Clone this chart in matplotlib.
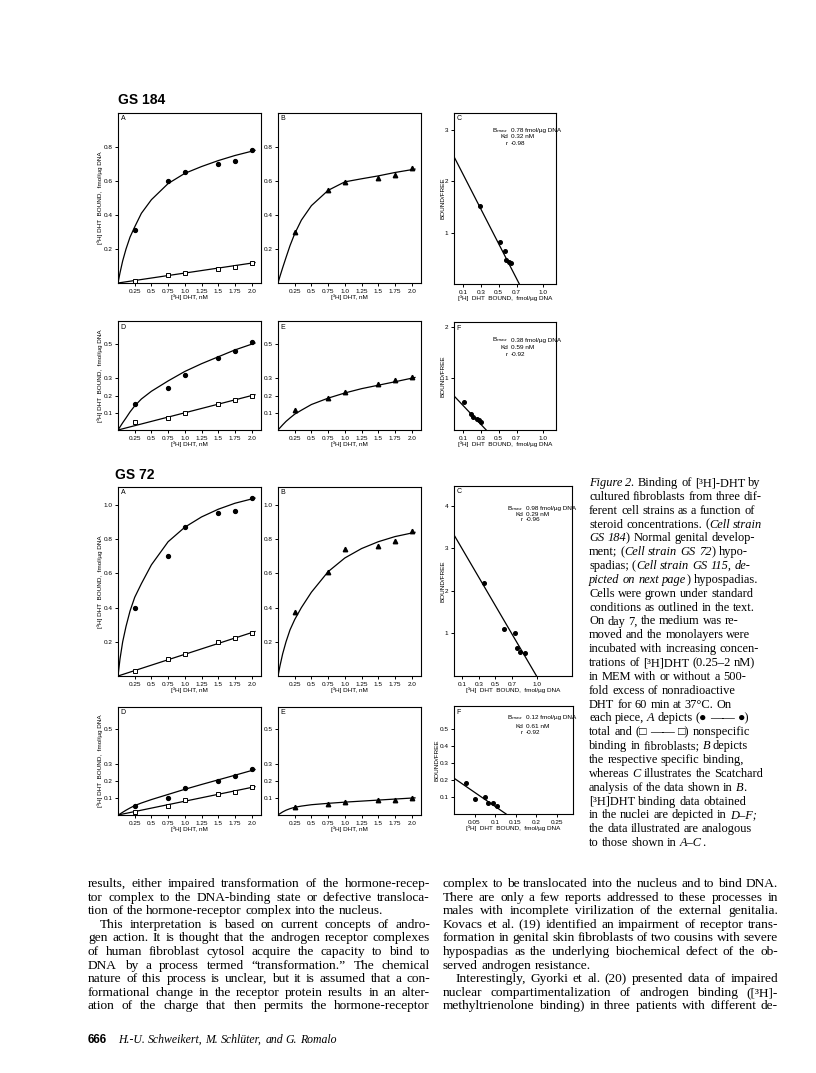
import matplotlib
matplotlib.use('Agg')
import matplotlib.pyplot as plt

# concentration of [3H]DHT (nM) used in every binding panel
conc = [0.25, 0.75, 1.0, 1.5, 1.75, 2.0]
fit_x = [0, 0.03, 0.07, 0.12, 0.18, 0.25, 0.35, 0.5, 0.75, 1.0, 1.25, 1.5, 1.75, 2.05]
line_x = [0, 2.05]

# GS 184, whole cells (A, B)
gs184_total = [0.31, 0.60, 0.65, 0.70, 0.72, 0.78]
gs184_nonspec = [0.01, 0.05, 0.06, 0.085, 0.095, 0.115]
gs184_specific = [0.30, 0.545, 0.595, 0.62, 0.635, 0.675]
gs184_total_fit = [0, 0.06, 0.13, 0.2, 0.27, 0.33, 0.41, 0.49, 0.585, 0.645, 0.685, 0.72, 0.75, 0.78]
gs184_specific_fit = [0, 0.04, 0.09, 0.15, 0.22, 0.29, 0.37, 0.455, 0.545, 0.595, 0.613, 0.63, 0.65, 0.67]
gs184_nonspec_fit = [0, 0.12]
# GS 184, nuclei (D, E)
gs184n_total = [0.15, 0.245, 0.32, 0.42, 0.46, 0.51]
gs184n_nonspec = [0.046, 0.067, 0.10, 0.15, 0.175, 0.20]
gs184n_specific = [0.115, 0.185, 0.22, 0.268, 0.29, 0.31]
gs184n_total_fit = [0, 0.018, 0.042, 0.07, 0.105, 0.14, 0.18, 0.225, 0.285, 0.34, 0.385, 0.425, 0.465, 0.505]
gs184n_specific_fit = [0, 0.013, 0.03, 0.05, 0.07, 0.092, 0.115, 0.148, 0.185, 0.215, 0.24, 0.26, 0.28, 0.305]
gs184n_nonspec_fit = [0, 0.205]
# GS 184 Scatchard (C, F)
gs184_sc_bound = [0.29, 0.51, 0.57, 0.585, 0.61, 0.64]
gs184_sc_ratio = [1.52, 0.81, 0.64, 0.46, 0.42, 0.40]
gs184_sc_line = ([0, 0.73], [2.48, 0])
gs184n_sc_bound = [0.115, 0.19, 0.21, 0.26, 0.28, 0.30]
gs184n_sc_ratio = [0.55, 0.30, 0.26, 0.22, 0.20, 0.16]
gs184n_sc_line = ([0, 0.36], [0.66, 0])

# GS 72, whole cells (A, B)
gs72_total = [0.40, 0.70, 0.87, 0.955, 0.967, 1.04]
gs72_nonspec = [0.03, 0.097, 0.13, 0.20, 0.225, 0.25]
gs72_specific = [0.376, 0.61, 0.74, 0.76, 0.79, 0.85]
gs72_total_fit = [0, 0.1, 0.2, 0.29, 0.38, 0.46, 0.54, 0.65, 0.785, 0.87, 0.93, 0.975, 1.01, 1.04]
gs72_specific_fit = [0, 0.06, 0.13, 0.2, 0.27, 0.33, 0.4, 0.49, 0.61, 0.69, 0.745, 0.785, 0.815, 0.84]
gs72_nonspec_fit = [0, 0.26]
# GS 72, nuclei (D, E)
gs72n_total = [0.05, 0.10, 0.156, 0.20, 0.23, 0.266]
gs72n_nonspec = [0.02, 0.05, 0.085, 0.12, 0.135, 0.164]
gs72n_specific = [0.045, 0.062, 0.075, 0.085, 0.09, 0.10]
gs72n_total_fit = [0, 0.006, 0.016, 0.028, 0.041, 0.055, 0.07, 0.09, 0.12, 0.15, 0.178, 0.205, 0.232, 0.265]
gs72n_specific_fit = [0, 0.008, 0.018, 0.028, 0.037, 0.045, 0.052, 0.06, 0.068, 0.075, 0.081, 0.087, 0.093, 0.10]
gs72n_nonspec_fit = [0, 0.165]
# GS 72 Scatchard (C, F)
gs72_sc_bound = [0.36, 0.60, 0.74, 0.76, 0.80, 0.86]
gs72_sc_ratio = [2.18, 1.10, 1.0, 0.67, 0.57, 0.53]
gs72_sc_line = ([0, 1.0], [3.32, 0])
gs72n_sc_bound = [0.03, 0.05, 0.075, 0.084, 0.095, 0.105]
gs72n_sc_ratio = [0.18, 0.09, 0.10, 0.065, 0.065, 0.045]
gs72n_sc_line = ([0, 0.127], [0.21, 0])

conc_ticks = [0.25, 0.5, 0.75, 1.0, 1.25, 1.5, 1.75, 2.0]
conc_labels = ['0.25', '0.5', '0.75', '1.0', '1.25', '1.5', '1.75', '2.0']
sc_ticks = [0.1, 0.3, 0.5, 0.7, 1.0]
sc_labels = ['0.1', '0.3', '0.5', '0.7', '1.0']

W, H = 816, 1073
SANS = ['Liberation Sans Narrow', 'Liberation Sans', 'DejaVu Sans']
SERIF = ['Liberation Serif', 'DejaVu Serif', 'DejaVu Sans']

fig = plt.figure(figsize=(W / 100, H / 100), dpi=100)
renderer = fig.canvas.get_renderer()


def make_axes(l, t, r, b, xlim, ylim, xticks, xlabels, yticks, ylabels, letter):
    ax = fig.add_axes([l / W, 1 - b / H, (r - l) / W, (b - t) / H])
    ax.set_xlim(*xlim)
    ax.set_ylim(*ylim)
    ax.set_xticks(xticks)
    ax.set_xticklabels(xlabels, family=SANS)
    ax.set_yticks(yticks)
    ax.set_yticklabels(ylabels, family=SANS)
    ax.tick_params(direction='out', length=2.5, width=0.7, labelsize=4.6, pad=1.5)
    for s in ax.spines.values():
        s.set_linewidth(0.8)
    ax.text(5 / (r - l), 1 - 6 / (b - t), letter, transform=ax.transAxes,
            fontsize=5, family=SANS, va='center', ha='center')
    ax._px = (r - l, b - t)
    return ax


def xlabel(ax, text, dy=14):
    ax.text(0.5, -dy / ax._px[1], text, transform=ax.transAxes, fontsize=4.6,
            family=SANS, ha='center', va='center')


def ylabel(ax, text, dx):
    ax.text(-dx / ax._px[0], 0.5, text, transform=ax.transAxes, fontsize=4.6,
            family=SANS, ha='center', va='center', rotation=90)


def stats(ax, x_px, tops, vals):
    names = ['B$_{max}$', 'Kd', 'r']
    for name, dy, v in zip(names, tops, vals):
        y = 1 - dy / ax._px[1]
        ax.text((x_px - 2) / ax._px[0], y, name, transform=ax.transAxes, fontsize=4.6,
                family=SANS, ha='right', va='center')
        ax.text((x_px + 1) / ax._px[0], y, v, transform=ax.transAxes, fontsize=4.6,
                family=SANS, ha='left', va='center')


def binding_pair(top, bot, ylim, yt, ytl, total, total_fit, nonspec, nonspec_fit, spec, spec_fit, la, lb):
    a = make_axes(118, top, 261, bot, (0, 2.14), ylim, conc_ticks, conc_labels, yt, ytl, la)
    a.plot(fit_x, total_fit, color='black', lw=0.9)
    a.plot(line_x, nonspec_fit, color='black', lw=0.9)
    a.plot(conc, total, 'o', color='black', ms=2.8)
    a.plot(conc, nonspec, 's', mfc='white', mec='black', mew=0.7, ms=2.8)
    xlabel(a, '[³H] DHT, nM')
    ylabel(a, '[³H] DHT  BOUND,  fmol/µg DNA', 18)
    b = make_axes(278, top, 421, bot, (0, 2.14), ylim, conc_ticks, conc_labels, yt, ytl, lb)
    b.plot(fit_x, spec_fit, color='black', lw=0.9)
    b.plot(conc, spec, '^', color='black', ms=3.2)
    xlabel(b, '[³H] DHT, nM')


def scatchard(top, bot, right, xlim, ylim, xt, xtl, yt, ytl, bound, ratio, fit, letter, ydx=11):
    c = make_axes(454, top, right, bot, xlim, ylim, xt, xtl, yt, ytl, letter)
    c.plot(fit[0], fit[1], color='black', lw=0.9)
    c.plot(bound, ratio, 'o', color='black', ms=2.6)
    xlabel(c, '[³H]  DHT  BOUND,  fmol/µg DNA')
    ylabel(c, 'BOUND/FREE', ydx)
    return c


# ---- GS 184 ----
fig.text(118 / W, 1 - 104 / H, 'GS 184', fontsize=10, weight='bold', family=SANS)
binding_pair(113, 283, (0, 1.0), [0.2, 0.4, 0.6, 0.8], ['0.2', '0.4', '0.6', '0.8'],
             gs184_total, gs184_total_fit, gs184_nonspec, gs184_nonspec_fit,
             gs184_specific, gs184_specific_fit, 'A', 'B')
c = scatchard(113, 284, 556, (0, 1.14), (0, 3.33), sc_ticks, sc_labels, [1, 2, 3], ['1', '2', '3'],
              gs184_sc_bound, gs184_sc_ratio, gs184_sc_line, 'C')
stats(c, 56, [18, 24, 31], ['0.78 fmol/µg DNA', '0.32 nM', '-0.98'])

binding_pair(321, 430, (0, 0.633), [0.1, 0.2, 0.3, 0.5], ['0.1', '0.2', '0.3', '0.5'],
             gs184n_total, gs184n_total_fit, gs184n_nonspec, gs184n_nonspec_fit,
             gs184n_specific, gs184n_specific_fit, 'D', 'E')
f = scatchard(322, 430, 556, (0, 1.14), (0, 2.09), sc_ticks, sc_labels, [1, 2], ['1', '2'],
              gs184n_sc_bound, gs184n_sc_ratio, gs184n_sc_line, 'F')
stats(f, 56, [18, 25, 32], ['0.38 fmol/µg DNA', '0.59 nM', '-0.92'])

# ---- GS 72 ----
fig.text(115 / W, 1 - 479 / H, 'GS 72', fontsize=10, weight='bold', family=SANS)
binding_pair(487, 676, (0, 1.105), [0.2, 0.4, 0.6, 0.8, 1.0], ['0.2', '0.4', '0.6', '0.8', '1.0'],
             gs72_total, gs72_total_fit, gs72_nonspec, gs72_nonspec_fit,
             gs72_specific, gs72_specific_fit, 'A', 'B')
c = scatchard(486, 676, 572, (0, 1.43), (0, 4.47), sc_ticks, sc_labels, [1, 2, 3, 4], ['1', '2', '3', '4'],
              gs72_sc_bound, gs72_sc_ratio, gs72_sc_line, 'C')
stats(c, 71, [23, 29, 34], ['0.98 fmol/µg DNA', '0.29 nM', '-0.96'])

binding_pair(707, 815, (0, 0.63), [0.1, 0.2, 0.3, 0.5], ['0.1', '0.2', '0.3', '0.5'],
             gs72n_total, gs72n_total_fit, gs72n_nonspec, gs72n_nonspec_fit,
             gs72n_specific, gs72n_specific_fit, 'D', 'E')
f = scatchard(706, 814, 573, (0, 0.29), (0, 0.633), [0.05, 0.1, 0.15, 0.2, 0.25],
              ['0.05', '0.1', '0.15', '0.2', '0.25'], [0.1, 0.2, 0.3, 0.4, 0.5],
              ['0.1', '0.2', '0.3', '0.4', '0.5'], gs72n_sc_bound, gs72n_sc_ratio, gs72n_sc_line, 'F',
              ydx=17)
stats(f, 71, [12, 20, 27], ['0.12 fmol/µg DNA', '0.61 nM', '-0.92'])


# ---- running text ----
def tokenize(line):
    tokens = []
    pending = False
    for i, part in enumerate(line.split('*')):
        for j, w in enumerate(part.split(' ')):
            if j > 0:
                pending = True
            if w == '':
                continue
            tokens.append((w, i % 2 == 1, pending))
            pending = False
    return tokens


def put_line(x0, y, line, size, x1=None, family=SERIF, weight='normal'):
    tokens = tokenize(line)
    arts, widths = [], []
    for w, ital, sp in tokens:
        t = fig.text(0, 0, w, fontsize=size, family=family, weight=weight,
                     style='italic' if ital else 'normal', va='baseline', ha='left')
        widths.append(t.get_window_extent(renderer).width)
        arts.append(t)
    space = size * 1.389 * 0.25
    nspace = sum(1 for tok in tokens[1:] if tok[2])
    if x1 is not None and nspace:
        space = (x1 - x0 - sum(widths)) / nspace
    x = x0
    for i, (t, wd, tok) in enumerate(zip(arts, widths, tokens)):
        if i > 0 and tok[2]:
            x += space
        t.set_position((x / W, 1 - y / H))
        x += wd


caption = [
    '*Figure 2.* Binding of [³H]-DHT by',
    'cultured fibroblasts from three dif-',
    'ferent cell strains as a function of',
    'steroid concentrations. (*Cell strain*',
    '*GS 184*) Normal genital develop-',
    'ment; (*Cell strain GS 72*) hypo-',
    'spadias; (*Cell strain GS 115, de-*',
    '*picted on next page*) hypospadias.',
    'Cells were grown under standard',
    'conditions as outlined in the text.',
    'On day 7, the medium was re-',
    'moved and the monolayers were',
    'incubated with increasing concen-',
    'trations of [³H]DHT (0.25–2 nM)',
    'in MEM with or without a 500-',
    'fold excess of nonradioactive',
    'DHT for 60 min at 37°C. On',
    'each piece, *A* depicts (● —— ●)',
    'total and (□ —— □) nonspecific',
    'binding in fibroblasts; *B* depicts',
    'the respective specific binding,',
    'whereas *C* illustrates the Scatchard',
    'analysis of the data shown in *B*.',
    '[³H]DHT binding data obtained',
    'in the nuclei are depicted in *D–F;*',
    'the data illustrated are analogous',
    'to those shown in *A–C*.',
]
for k, line in enumerate(caption):
    put_line(589, 486 + k * 13.85, line, 8.9)

left_col = [
    ('results, either impaired transformation of the hormone-recep-', 0, True),
    ('tor complex to the DNA-binding state or defective transloca-', 0, True),
    ('tion of the hormone-receptor complex into the nucleus.', 0, False),
    ('This interpretation is based on current concepts of andro-', 12, True),
    ('gen action. It is thought that the androgen receptor complexes', 0, True),
    ('of human fibroblast cytosol acquire the capacity to bind to', 0, True),
    ('DNA by a process termed “transformation.” The chemical', 0, True),
    ('nature of this process is unclear, but it is assumed that a con-', 0, True),
    ('formational change in the receptor protein results in an alter-', 0, True),
    ('ation of the charge that then permits the hormone-receptor', 0, True),
]
right_col = [
    ('complex to be translocated into the nucleus and to bind DNA.', 0, True),
    ('There are only a few reports addressed to these processes in', 0, True),
    ('males with incomplete virilization of the external genitalia.', 0, True),
    ('Kovacs et al. (19) identified an impairment of receptor trans-', 0, True),
    ('formation in genital skin fibroblasts of two cousins with severe', 0, True),
    ('hypospadias as the underlying biochemical defect of the ob-', 0, True),
    ('served androgen resistance.', 0, False),
    ('Interestingly, Gyorki et al. (20) presented data of impaired', 12, True),
    ('nuclear compartimentalization of androgen binding ([³H]-', 0, True),
    ('methyltrienolone binding) in three patients with different de-', 0, True),
]
for k, (line, ind, just) in enumerate(left_col):
    put_line(88 + ind, 887 + k * 13.6, line, 9.6, 430 if just else None)
for k, (line, ind, just) in enumerate(right_col):
    put_line(443 + ind, 887 + k * 13.6, line, 9.6, 778 if just else None)

put_line(88, 1043, '666', 8.5, family=SANS, weight='bold')
put_line(118, 1043, '*H.-U. Schweikert, M. Schlüter, and G. Romalo*', 8.5)

fig.savefig('out.png', dpi=100)
